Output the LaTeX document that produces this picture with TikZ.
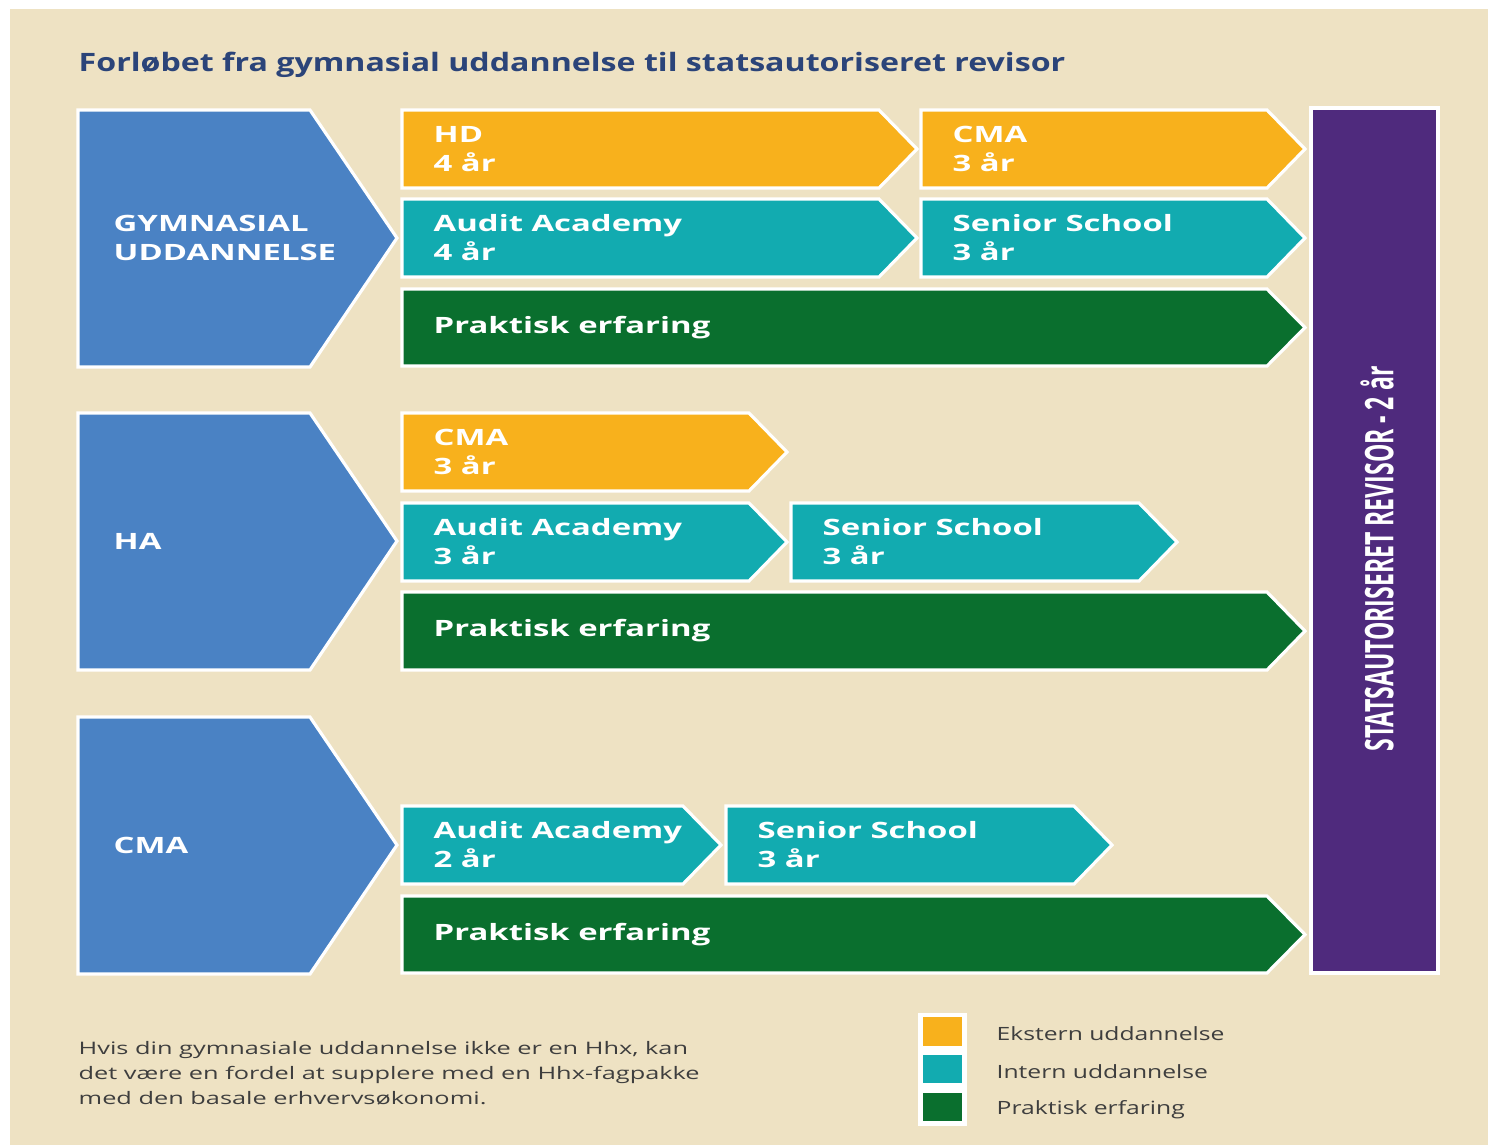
\documentclass[tikz,border=0pt]{standalone}
\usepackage{fontspec}
\usepackage{xcolor}
\setmainfont{Open Sans}
\newfontfamily\wideface{Open Sans}[FakeStretch=1.46]
\newfontfamily\titleface{Open Sans}[FakeStretch=1.27]
\newfontfamily\noteface{Open Sans}[FakeStretch=1.47]
\newfontfamily\legendface{Open Sans}[FakeStretch=1.35]
\newfontfamily\narrowface{Open Sans}[FakeStretch=0.585]
\usetikzlibrary{positioning}

\definecolor{bgbeige}{HTML}{EEE2C3}
\definecolor{hdorange}{HTML}{F8B11C}
\definecolor{auditteal}{HTML}{12ABB0}
\definecolor{praksisgreen}{HTML}{0A6F2E}
\definecolor{gymblue}{HTML}{4A82C4}
\definecolor{revpurple}{HTML}{4F2A7D}
\definecolor{titleblue}{HTML}{2B4479}
\definecolor{notegray}{HTML}{3E3E3E}

% #1 name, #2 left, #3 tip, #4 top, #5 bottom, #6 colour, #7 text
\newcommand{\arrowbar}[7]{
    \fill[#6, draw=white, line width=0.9pt] (#2,#4) -- ({#3-38},#4) -- (#3,{(#4+#5)/2}) -- ({#3-38},#5) -- (#2,#5) -- cycle;
    \node[boxtext] (#1) at ({#2+31},{(#4+#5)/2}) {#7};
}

\begin{document}
\begin{tikzpicture}[x=0.01cm, y=-0.01cm,
        boxtext/.style={text=white, font=\wideface\bfseries\fontsize{6.4}{8.25}\selectfont, align=left, inner sep=0pt, anchor=west},
        titletext/.style={text=titleblue, font=\titleface\bfseries\fontsize{7.2}{9}\selectfont, inner sep=0pt},
        revtext/.style={text=white, font=\narrowface\bfseries\fontsize{11.2}{13}\selectfont, inner sep=0pt},
        notetext/.style={text=notegray, font=\noteface\fontsize{4.9}{7.1}\selectfont, align=left, inner sep=0pt},
        legendbox/.style={minimum width=11pt, minimum height=8pt, inner sep=0pt},
        legendtext/.style={text=notegray, font=\legendface\fontsize{5.2}{6}\selectfont, inner sep=0pt, yshift=-0.7pt}]
    \useasboundingbox (0,0) rectangle (1488,1145);
    \fill[white] (0,0) rectangle (1488,1145);
    \fill[bgbeige] (10,9) rectangle (1488,1145);

    \node[titletext, anchor=base west] (title) at (78,71) {Forløbet fra gymnasial uddannelse til statsautoriseret revisor};

    % start points
    \foreach \name/\ytop/\label in {gym/110/{GYMNASIAL\\UDDANNELSE}, ha/413/HA, cma/717/CMA} {
        \fill[gymblue, draw=white, line width=0.9pt] (78,\ytop) -- (310,\ytop) -- (397,\ytop+128) -- (310,\ytop+257) -- (78,\ytop+257) -- cycle;
        \node[boxtext] (\name) at (113,\ytop+128) {\label};
    }

    % gymnasial uddannelse
    \arrowbar{hdgym}{402}{917}{110}{188}{hdorange}{HD\\4 år}
    \arrowbar{cmagym}{921}{1305}{110}{188}{hdorange}{CMA\\3 år}
    \arrowbar{auditgym}{402}{917}{199}{277}{auditteal}{Audit Academy\\4 år}
    \arrowbar{seniorgym}{921}{1305}{199}{277}{auditteal}{Senior School\\3 år}
    \arrowbar{praksisgym}{402}{1305}{289}{366}{praksisgreen}{Praktisk erfaring}

    % HA
    \arrowbar{cmaha}{402}{787}{413}{491}{hdorange}{CMA\\3 år}
    \arrowbar{auditha}{402}{787}{503}{581}{auditteal}{Audit Academy\\3 år}
    \arrowbar{seniorha}{791}{1177}{503}{581}{auditteal}{Senior School\\3 år}
    \arrowbar{praksisha}{402}{1305}{592}{670}{praksisgreen}{Praktisk erfaring}

    % CMA
    \arrowbar{auditcma}{402}{721}{806}{884}{auditteal}{Audit Academy\\2 år}
    \arrowbar{seniorcma}{726}{1112}{806}{884}{auditteal}{Senior School\\3 år}
    \arrowbar{praksiscma}{402}{1305}{896}{973}{praksisgreen}{Praktisk erfaring}

    % end point
    \fill[revpurple, draw=white, line width=0.9pt] (1311,108) rectangle (1438,973);
    \node[revtext, rotate=90] (revisor) at (1377,559) {STATSAUTORISERET REVISOR - 2 år};

    \node[notetext, anchor=north west] (note) at (78,1041) {Hvis din gymnasiale uddannelse ikke er en Hhx, kan\\det være en fordel at supplere med en Hhx-fagpakke\\med den basale erhvervsøkonomi.};

    % legend
    \fill[white] (918,1013) rectangle (967,1126);
    \node[legendbox, fill=hdorange] (ekstern) at (942.5,1031.5) {};
    \node[legendbox, fill=auditteal] (intern) at (942.5,1069) {};
    \node[legendbox, fill=praksisgreen] (praktisk) at (942.5,1107) {};
    \node[legendtext, right=9.5pt of ekstern] (eksterntxt) {Ekstern uddannelse};
    \node[legendtext, right=9.5pt of intern] (interntxt) {Intern uddannelse};
    \node[legendtext, right=9.5pt of praktisk] (praktisktxt) {Praktisk erfaring};
\end{tikzpicture}
\end{document}
